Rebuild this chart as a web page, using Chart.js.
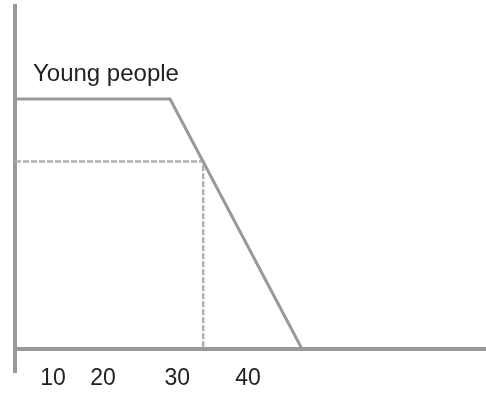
<!DOCTYPE html>
<html>
<head>
<meta charset="utf-8">
<script src="https://cdn.jsdelivr.net/npm/chart.js@4.4.1/dist/chart.umd.min.js"></script>
<style>
  html, body { margin: 0; padding: 0; background: #fff; }
  canvas { display: block; }
</style>
</head>
<body>
<canvas id="ageChart" width="486" height="393"></canvas>
<script>
// age axis (rough sketch units) and share of "young people"
const ageKnots = [4.15, 28, 48.3];
const youngShare = [100, 100, 0];

// dotted guide
const guideAge = [4.15, 33.1, 33.1];
const guideShare = [75, 75, 0];

// x tick labels and where they sit on the age axis
const tickLabels = ['10', '20', '30', '40'];
const tickAges = [10, 17.7, 29.1, 40];

const seriesLabel = 'Young people';

const toPoints = (xs, ys) => xs.map((x, i) => ({ x: x, y: ys[i] }));

// writes the series name above the plateau
const nameLabel = {
    id: 'nameLabel',
    afterDatasetsDraw(chart) {
        const { ctx, scales } = chart;
        ctx.save();
        ctx.font = '24px "Liberation Sans", Arial, sans-serif';
        ctx.fillStyle = '#222';
        ctx.textBaseline = 'alphabetic';
        ctx.fillText(seriesLabel, scales.x.getPixelForValue(ageKnots[0]) + 18,
            scales.y.getPixelForValue(youngShare[0]) - 18);
        ctx.restore();
    }
};

const ctx = document.getElementById('ageChart').getContext('2d');
new Chart(ctx, {
    type: 'scatter',
    data: {
        datasets: [
            {
                label: seriesLabel,
                data: toPoints(ageKnots, youngShare),
                showLine: true,
                borderColor: '#999999',
                borderWidth: 3,
                pointRadius: 0,
                tension: 0
            },
            {
                label: 'guide',
                data: toPoints(guideAge, guideShare),
                showLine: true,
                borderColor: '#b0b0b0',
                borderWidth: 2.5,
                borderDash: [6, 2],
                pointRadius: 0,
                tension: 0
            }
        ]
    },
    options: {
        responsive: false,
        animation: false,
        devicePixelRatio: 1,
        layout: { padding: { top: 6, bottom: 21, left: 15, right: 0 } },
        plugins: {
            legend: { display: false },
            tooltip: { enabled: false }
        },
        scales: {
            x: {
                type: 'linear',
                position: { y: 0 },
                min: 4.15,
                max: 76.6,
                afterBuildTicks: axis => {
                    axis.ticks = tickAges.map(v => ({ value: v }));
                },
                ticks: {
                    autoSkip: false,
                    maxRotation: 0,
                    padding: 16,
                    color: '#222',
                    font: { family: '"Liberation Sans", Arial, sans-serif', size: 23 },
                    callback: (value, index) => tickLabels[index]
                },
                grid: { display: false, drawTicks: false },
                border: { display: true, color: '#999999', width: 4 }
            },
            y: {
                type: 'linear',
                position: 'left',
                min: -9.2,
                max: 137.2,
                ticks: { display: false },
                grid: { display: false, drawTicks: false },
                border: { display: true, color: '#999999', width: 4 }
            }
        }
    },
    plugins: [nameLabel]
});
</script>
</body>
</html>
